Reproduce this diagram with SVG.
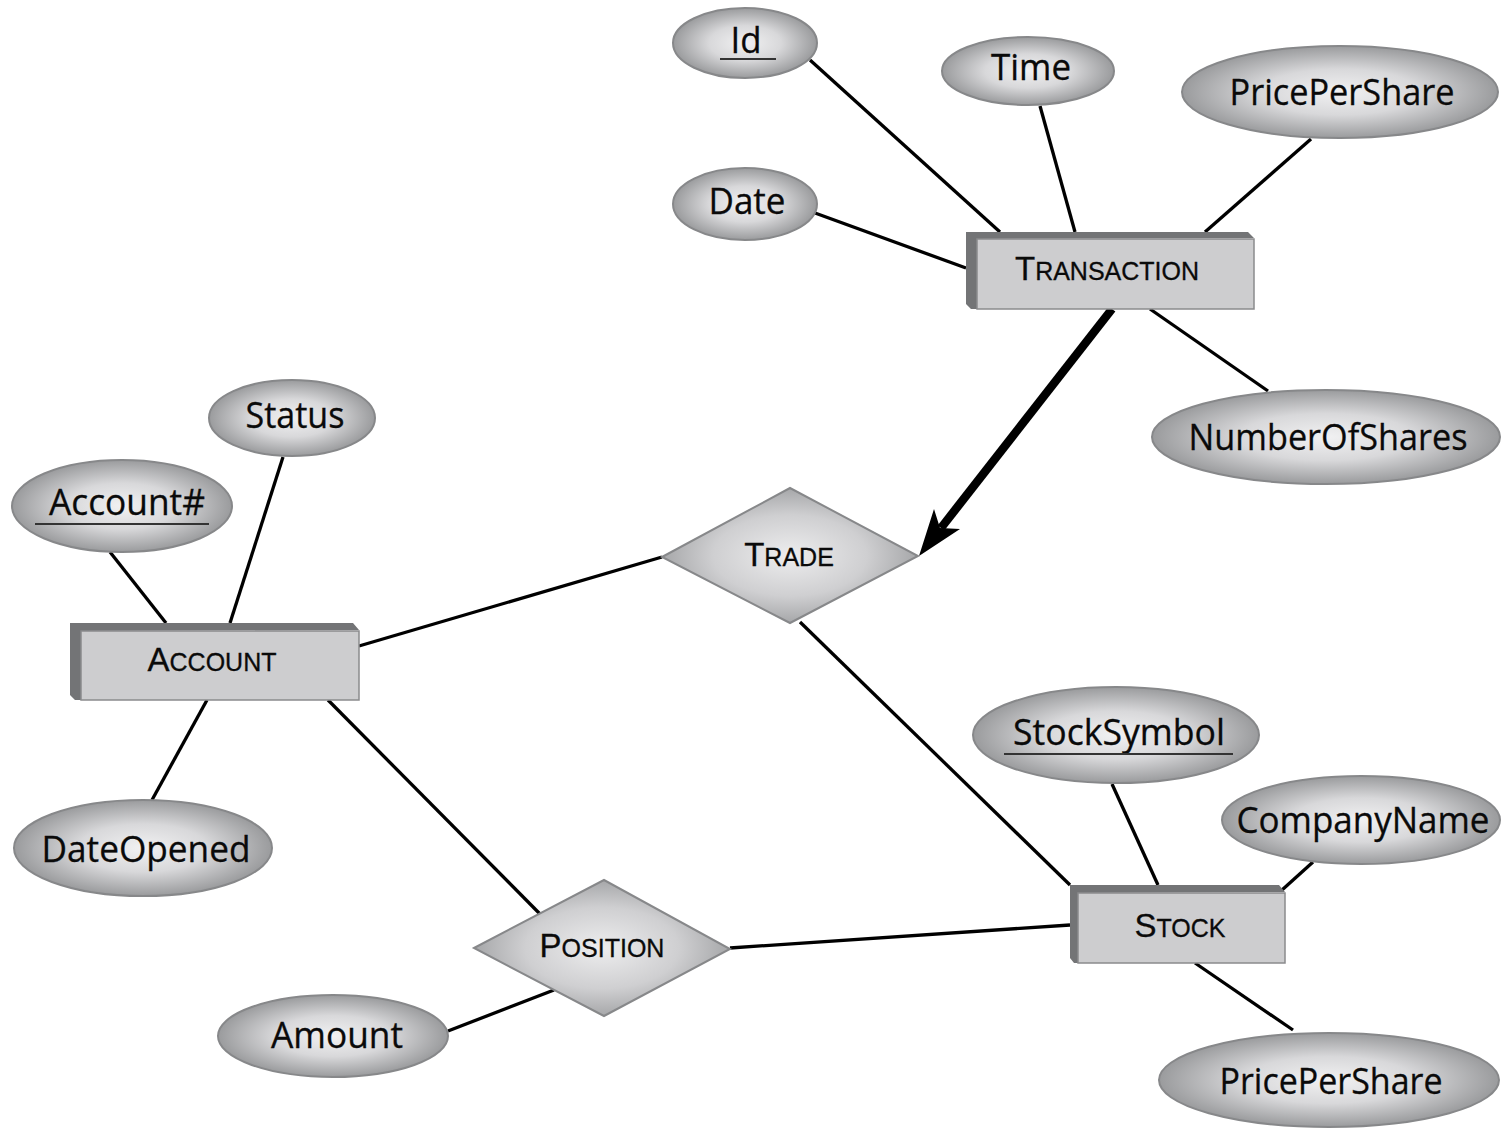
<svg xmlns="http://www.w3.org/2000/svg" width="1501" height="1128" viewBox="0 0 1501 1128">
<defs>
<radialGradient id="gEll" cx="0.5" cy="0.5" r="0.5">
<stop offset="0" stop-color="#f1f1f2"/>
<stop offset="0.5" stop-color="#d8d8da"/>
<stop offset="1" stop-color="#9a9b9d"/>
</radialGradient>
<radialGradient id="gDia" cx="0.5" cy="0.5" r="0.5">
<stop offset="0" stop-color="#ededee"/>
<stop offset="0.6" stop-color="#cfcfd1"/>
<stop offset="1" stop-color="#a6a7a9"/>
</radialGradient>
<style>
.ell{fill:url(#gEll);stroke:#87888a;stroke-width:2}
.dia{fill:url(#gDia);stroke:#87888a;stroke-width:2}
.face{fill:#cdcdcf;stroke:#8a8b8d;stroke-width:1.5}
.bevel{fill:#737476}
.at{font-family:"Open Sans","Liberation Sans",sans-serif;font-size:36px;fill:#0a0a0a;text-anchor:middle;stroke:#0a0a0a;stroke-width:0.3}
.ent{font-family:"Liberation Sans",Arial,sans-serif;fill:#0a0a0a;text-anchor:middle;stroke:#0a0a0a;stroke-width:0.3}
.big{font-size:33px}
.sm{font-size:25px}
.ul{stroke:#333;stroke-width:2}
.ln{stroke:#000;stroke-width:3.3;fill:none}
</style>
</defs>
<rect width="1501" height="1128" fill="#fff"/>
<g id="connectors">
<line class="ln" x1="810" y1="60" x2="1000" y2="232"/>
<line class="ln" x1="1040" y1="106" x2="1075" y2="232"/>
<line class="ln" x1="1311" y1="139" x2="1205" y2="232"/>
<line class="ln" x1="815" y1="213" x2="966" y2="268"/>
<line class="ln" x1="1150" y1="309" x2="1268" y2="391"/>
<line class="ln" x1="283" y1="457" x2="230" y2="623"/>
<line class="ln" x1="110" y1="552" x2="166" y2="623"/>
<line class="ln" x1="207" y1="700" x2="152" y2="800"/>
<line class="ln" x1="359" y1="646" x2="662" y2="557"/>
<line class="ln" x1="800" y1="622" x2="1070" y2="885"/>
<line class="ln" x1="328" y1="700" x2="540" y2="914"/>
<line class="ln" x1="554" y1="990" x2="448" y2="1031"/>
<line class="ln" x1="730" y1="948" x2="1070" y2="925"/>
<line class="ln" x1="1112" y1="784" x2="1158" y2="885"/>
<line class="ln" x1="1313" y1="862" x2="1282" y2="890"/>
<line class="ln" x1="1195" y1="963" x2="1293" y2="1030"/>
<line x1="1112" y1="309" x2="941" y2="528" stroke="#000" stroke-width="8.5"/>
<polygon points="919,556 934,509 940,528 960,529" fill="#000"/>
</g>
<g id="n-transaction">
<polygon class="bevel" points="966,232 1248,232 1254,238 977,239 977,309 971,309 966,304"/>
<rect class="face" x="977" y="239" width="277" height="70"/>
<text class="ent" x="1107" y="280"><tspan class="big">T</tspan><tspan class="sm">RANSACTION</tspan></text>
</g>
<g id="n-account">
<polygon class="bevel" points="70,623 353,623 359,630 81,631 81,700 75,700 70,695"/>
<rect class="face" x="81" y="631" width="278" height="69"/>
<text class="ent" x="212" y="671"><tspan class="big">A</tspan><tspan class="sm">CCOUNT</tspan></text>
</g>
<g id="n-stock">
<polygon class="bevel" points="1070,885 1279,885 1285,892 1078,893 1078,963 1074,963 1070,958"/>
<rect class="face" x="1078" y="893" width="207" height="70"/>
<text class="ent" x="1180" y="937"><tspan class="big">S</tspan><tspan class="sm">TOCK</tspan></text>
</g>
<g id="n-trade">
<polygon class="dia" points="662,557 790,488 918,556 790,623"/>
<text class="ent" x="789" y="566"><tspan class="big">T</tspan><tspan class="sm">RADE</tspan></text>
</g>
<g id="n-position">
<polygon class="dia" points="474,948 604,880 730,949 604,1016"/>
<text class="ent" x="602" y="957"><tspan class="big">P</tspan><tspan class="sm">OSITION</tspan></text>
</g>
<g id="a-id">
<ellipse class="ell" cx="745" cy="43" rx="72" ry="35"/>
<text class="at" x="746" y="53" textLength="31" lengthAdjust="spacingAndGlyphs">Id</text>
<line class="ul" x1="720" y1="59" x2="776" y2="59"/>
</g>
<g id="a-time">
<ellipse class="ell" cx="1028" cy="71" rx="86" ry="34"/>
<text class="at" x="1031" y="80" textLength="80" lengthAdjust="spacingAndGlyphs">Time</text>
</g>
<g id="a-pps-top">
<ellipse class="ell" cx="1340" cy="92" rx="158" ry="46"/>
<text class="at" x="1342" y="105" textLength="225" lengthAdjust="spacingAndGlyphs">PricePerShare</text>
</g>
<g id="a-date">
<ellipse class="ell" cx="745" cy="204" rx="72" ry="36"/>
<text class="at" x="747" y="214" textLength="77" lengthAdjust="spacingAndGlyphs">Date</text>
</g>
<g id="a-nos">
<ellipse class="ell" cx="1326" cy="437" rx="174" ry="47"/>
<text class="at" x="1328" y="450" textLength="279" lengthAdjust="spacingAndGlyphs">NumberOfShares</text>
</g>
<g id="a-status">
<ellipse class="ell" cx="292" cy="418" rx="83" ry="38"/>
<text class="at" x="295" y="428" textLength="99" lengthAdjust="spacingAndGlyphs">Status</text>
</g>
<g id="a-accountno">
<ellipse class="ell" cx="122" cy="506" rx="110" ry="46"/>
<text class="at" x="127" y="515" textLength="156" lengthAdjust="spacingAndGlyphs">Account#</text>
<line class="ul" x1="35" y1="524" x2="209" y2="524"/>
</g>
<g id="a-dateopened">
<ellipse class="ell" cx="143" cy="848" rx="129" ry="48"/>
<text class="at" x="146" y="862" textLength="209" lengthAdjust="spacingAndGlyphs">DateOpened</text>
</g>
<g id="a-amount">
<ellipse class="ell" cx="333" cy="1036" rx="115" ry="41"/>
<text class="at" x="337" y="1048" textLength="132" lengthAdjust="spacingAndGlyphs">Amount</text>
</g>
<g id="a-stocksymbol">
<ellipse class="ell" cx="1116" cy="735" rx="143" ry="48"/>
<text class="at" x="1119" y="745" textLength="212" lengthAdjust="spacingAndGlyphs">StockSymbol</text>
<line class="ul" x1="1004" y1="754" x2="1233" y2="754"/>
</g>
<g id="a-companyname">
<ellipse class="ell" cx="1361" cy="820" rx="139" ry="44"/>
<text class="at" x="1363" y="833" textLength="253" lengthAdjust="spacingAndGlyphs">CompanyName</text>
</g>
<g id="a-pps-bottom">
<ellipse class="ell" cx="1329" cy="1080" rx="170" ry="47"/>
<text class="at" x="1331" y="1094" textLength="223" lengthAdjust="spacingAndGlyphs">PricePerShare</text>
</g>
</svg>
